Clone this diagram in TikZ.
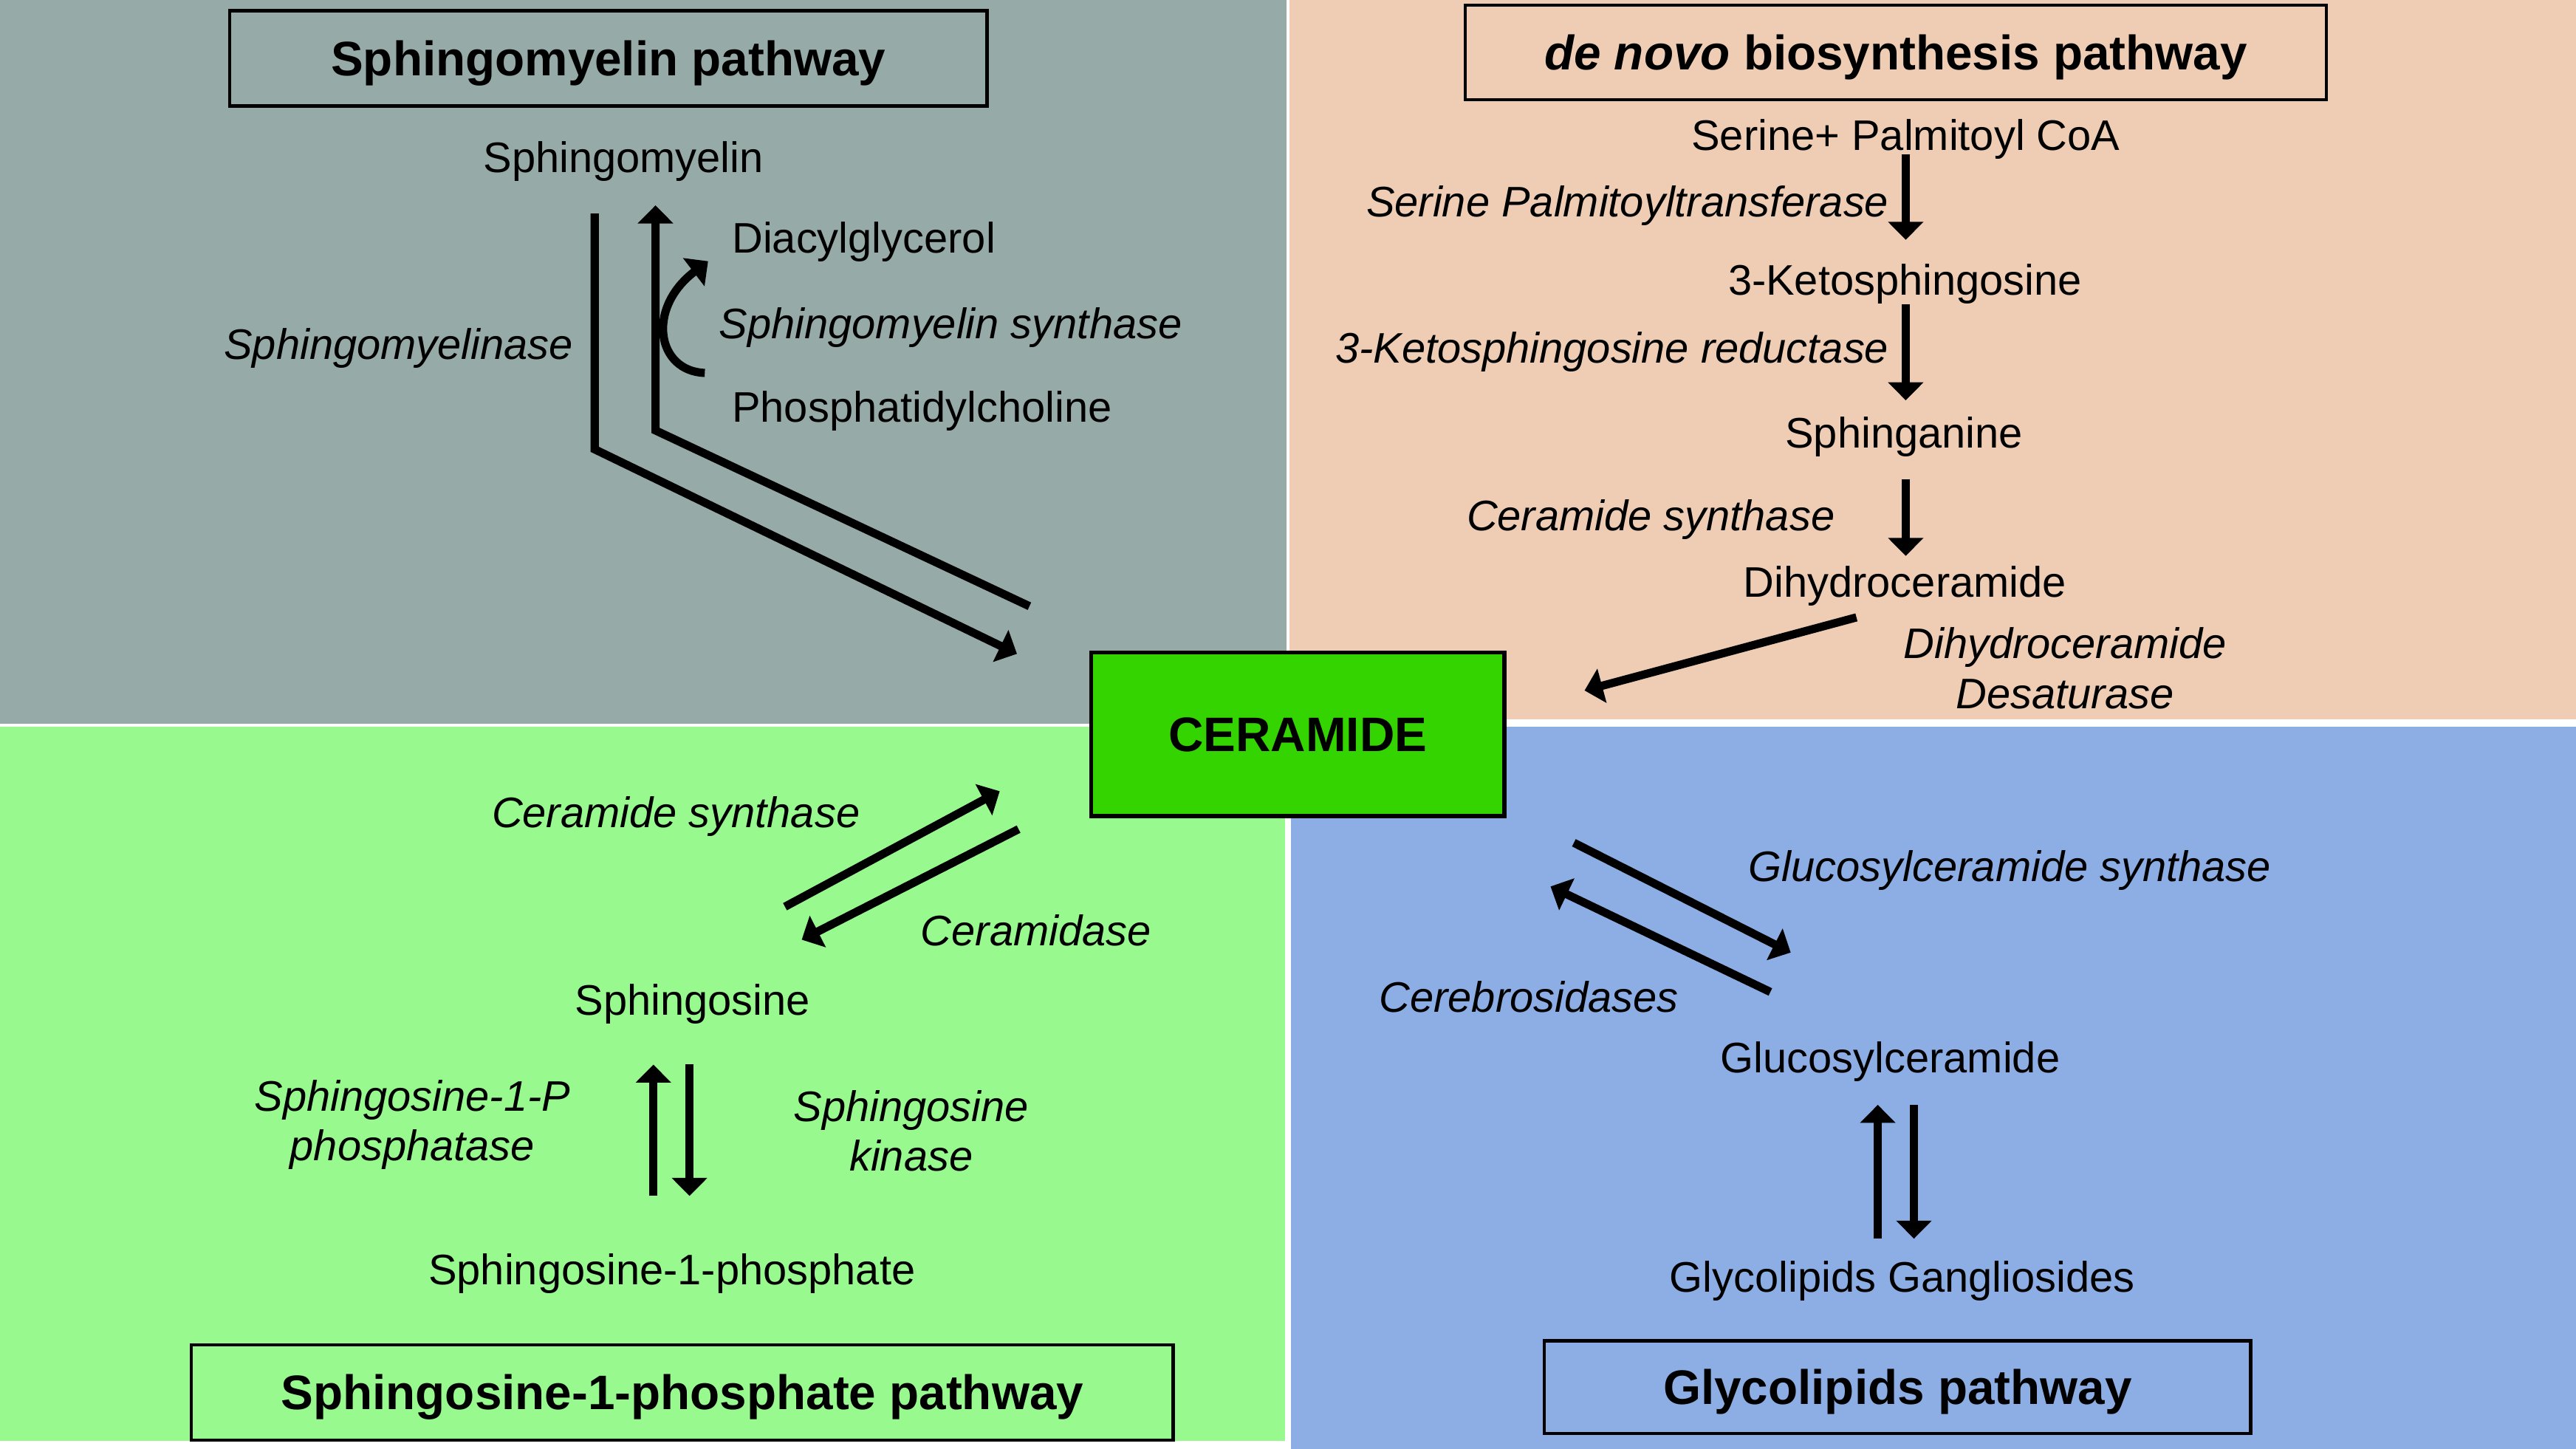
\documentclass[tikz,border=0pt]{standalone}
\usepackage{fontspec}
\setmainfont{Liberation Sans}
\usepackage{xcolor}
\usetikzlibrary{positioning,arrows.meta}

\definecolor{smgray}{RGB}{150,170,168}
\definecolor{dnpeach}{RGB}{238,205,180}
\definecolor{sppgreen}{RGB}{152,249,142}
\definecolor{glyblue}{RGB}{140,174,228}
\definecolor{cergreen}{RGB}{51,212,0}

\begin{document}
\begin{tikzpicture}[x=1pt, y=-1pt,
    every node/.style={font=\fontsize{26}{30.5}\selectfont},
    lipid/.style={inner sep=0pt, anchor=base},
    enzyme/.style={inner sep=0pt, font=\fontsize{26}{30.5}\selectfont\itshape, align=center},
    pathway/.style={draw, line width=2pt, font=\fontsize{29.5}{35}\selectfont\bfseries, text height=21pt, text depth=0pt},
    flow/.style={line width=5pt, -{Triangle[length=11pt,width=21pt]}}]
    % Draw the four quadrants
    \fill[white] (0,0) rectangle (1568,882);
    \fill[smgray] (0,0) rectangle (783,440.5);
    \fill[dnpeach] (785,0) rectangle (1568,438);
    \fill[sppgreen] (0,442.5) rectangle (782,877);
    \fill[glyblue] (786,442.5) rectangle (1568,882);
    \useasboundingbox (0,0) rectangle (1568,882);

    % Sphingomyelin pathway
    \node[pathway, minimum width=461pt, minimum height=58pt] (smtitle) at (370.3,35.6) {Sphingomyelin pathway};
    \node[lipid] (sm) at (379.5,105) {Sphingomyelin};
    \node[enzyme, anchor=base east] (smase) at (349,218.5) {Sphingomyelinase};
    \node[lipid, anchor=base west] (dag) at (445.4,153.8) {Diacylglycerol};
    \node[enzyme, anchor=base west] (smsyn) at (437.5,206) {Sphingomyelin synthase};
    \node[lipid, anchor=base west] (pc) at (445.4,257) {Phosphatidylcholine};

    \coordinate (smase1) at (362,130);
    \coordinate (smase2) at (362,273.5);
    \coordinate (smase3) at (619,398);
    \draw[flow] (smase1) -- (smase2) -- (smase3);
    \coordinate (smsyn1) at (626.6,369);
    \coordinate (smsyn2) at (399,262);
    \coordinate (smsyn3) at (399,125);
    \draw[flow] (smsyn1) -- (smsyn2) -- (smsyn3);
    \coordinate (pcend) at (429,227);
    \coordinate (dagend) at (431,159);
    \draw[flow] (pcend) .. controls (400,226) and (393,188) .. (dagend);

    % de novo biosynthesis pathway
    \node[pathway, minimum width=524pt, minimum height=57.5pt] (dntitle) at (1154,32) {\textit{de novo} biosynthesis pathway};
    \node[lipid] (serine) at (1160,91.5) {Serine+ Palmitoyl CoA};
    \node[enzyme, anchor=base east] (spt) at (1149.8,132) {Serine Palmitoyltransferase};
    \node[lipid] (keto) at (1159.6,179.8) {3-Ketosphingosine};
    \node[enzyme, anchor=base east] (ketored) at (1149.8,221) {3-Ketosphingosine reductase};
    \node[lipid] (sphinganine) at (1159,272.5) {Sphinganine};
    \node[enzyme, anchor=base east] (cersyn1) at (1117,323.2) {Ceramide synthase};
    \node[lipid] (dihydro) at (1159.5,363.5) {Dihydroceramide};
    \node[enzyme] (desat) at (1257,406.8) {Dihydroceramide\\Desaturase};

    \coordinate (dn1a) at (1160,94);
    \coordinate (dn1b) at (1160,146);
    \coordinate (dn2a) at (1160,185);
    \coordinate (dn2b) at (1160,243.7);
    \coordinate (dn3a) at (1160,291.6);
    \coordinate (dn3b) at (1160,338.4);
    \coordinate (des1) at (1130,375.8);
    \coordinate (des2) at (964.5,420.3);
    \draw[flow] (dn1a) -- (dn1b);
    \draw[flow] (dn2a) -- (dn2b);
    \draw[flow] (dn3a) -- (dn3b);
    \draw[flow] (des1) -- (des2);

    % Ceramide in the middle
    \node[pathway, fill=cergreen, line width=2.5pt, minimum width=251.5pt, minimum height=99.5pt] (ceramide) at (790,447) {CERAMIDE};

    % Sphingosine-1-phosphate pathway
    \node[enzyme, anchor=base east] (cersyn2) at (523.6,503.7) {Ceramide synthase};
    \node[enzyme, anchor=base west] (cdase) at (560.3,575.6) {Ceramidase};
    \node[lipid] (sphingosine) at (421.5,618) {Sphingosine};
    \node[enzyme] (s1pp) at (251,684.7) {Sphingosine-1-P\\phosphatase};
    \node[enzyme] (sphk) at (554.6,688.4) {Sphingosine\\kinase};
    \node[lipid] (s1p) at (409,782) {Sphingosine-1-phosphate};
    \node[pathway, minimum width=597.5pt, minimum height=58pt] (s1ptitle) at (415.3,847.5) {Sphingosine-1-phosphate pathway};

    \coordinate (cs1) at (477.8,551.9);
    \coordinate (cs2) at (608.5,481.6);
    \coordinate (cd1) at (620,504.7);
    \coordinate (cd2) at (488,572);
    \draw[flow] (cs1) -- (cs2);
    \draw[flow] (cd1) -- (cd2);
    \coordinate (up1a) at (397.7,728);
    \coordinate (up1b) at (397.7,648);
    \coordinate (dw1a) at (419.7,648);
    \coordinate (dw1b) at (419.7,728);
    \draw[flow] (up1a) -- (up1b);
    \draw[flow] (dw1a) -- (dw1b);

    % Glycolipids pathway
    \node[enzyme, anchor=base west] (gcs) at (1064.2,536.6) {Glucosylceramide synthase};
    \node[enzyme, anchor=base east] (cbase) at (1021.8,615.9) {Cerebrosidases};
    \node[lipid] (glccer) at (1150.6,653) {Glucosylceramide};
    \node[lipid, anchor=base west] (gg) at (1016,786.5) {Glycolipids Gangliosides};
    \node[pathway, minimum width=430pt, minimum height=56.5pt] (glytitle) at (1155,844.3) {Glycolipids pathway};

    \coordinate (gcs1) at (958,513);
    \coordinate (gcs2) at (1090,579.8);
    \coordinate (cb1) at (1077.6,603.8);
    \coordinate (cb2) at (943.8,539.6);
    \draw[flow] (gcs1) -- (gcs2);
    \draw[flow] (cb1) -- (cb2);
    \coordinate (up2a) at (1143,754);
    \coordinate (up2b) at (1143,672.5);
    \coordinate (dw2a) at (1165,672.5);
    \coordinate (dw2b) at (1165,754);
    \draw[flow] (up2a) -- (up2b);
    \draw[flow] (dw2a) -- (dw2b);
\end{tikzpicture}
\end{document}
